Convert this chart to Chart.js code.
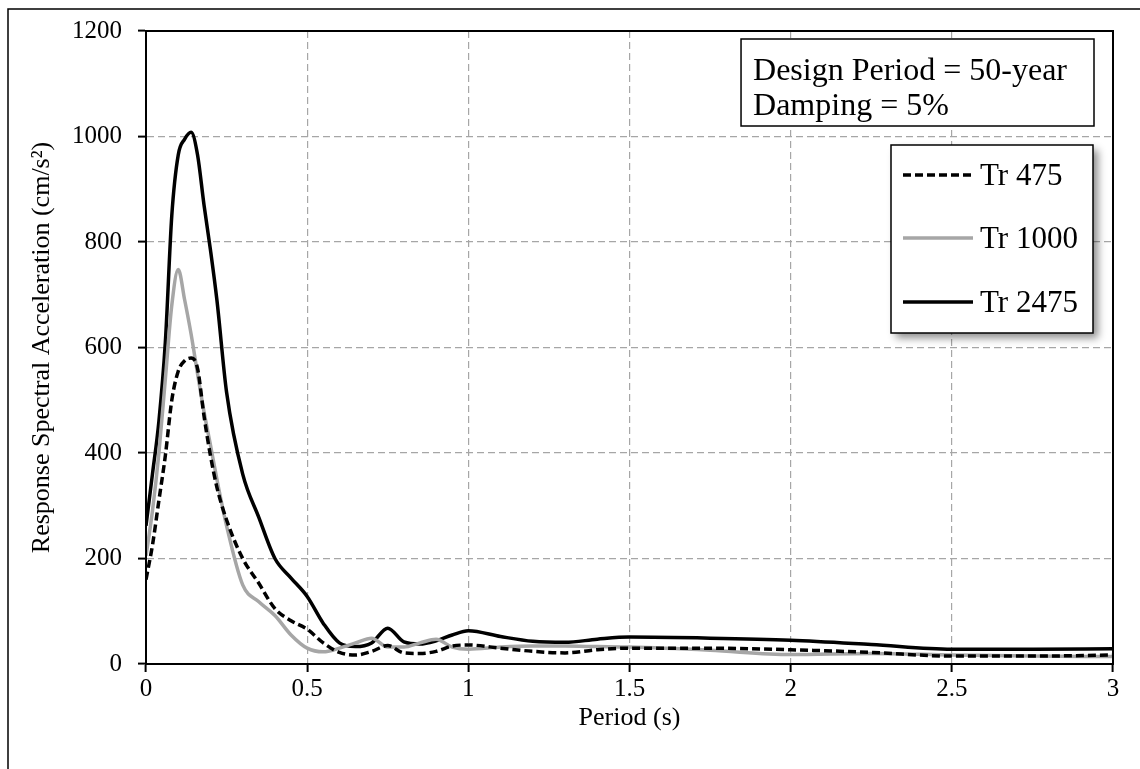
<!DOCTYPE html>
<html>
<head>
<meta charset="utf-8">
<script src="https://cdn.jsdelivr.net/npm/chart.js@4.4.0/dist/chart.umd.min.js"></script>
<style>
  body { margin: 0; background: #fff; }
  canvas { display: block; }
</style>
</head>
<body>
<canvas id="grafica" width="1140" height="769"></canvas>
<script>
// periodos (s) y aceleraciones espectrales (cm/s2)
const periods = [0, 0.02, 0.04, 0.06, 0.08, 0.1, 0.12, 0.14, 0.16, 0.18, 0.2, 0.22, 0.25, 0.3, 0.35, 0.4, 0.45, 0.5,
    0.55, 0.6, 0.65, 0.7, 0.75, 0.8, 0.85, 0.9, 0.95, 1.0, 1.1, 1.2, 1.3, 1.4, 1.5, 1.75, 2.0, 2.25, 2.5, 2.75, 3.0];
const tr475 = [160, 225, 310, 395, 500, 555, 575, 580, 560, 470, 395, 335, 273, 200, 153, 105, 82, 66,
    40, 22, 17, 24, 35, 21, 20, 24, 34, 36, 30, 24, 21, 27, 30, 30, 27, 22, 15, 15, 17];
const tr1000 = [205, 290, 400, 540, 680, 748, 690, 625, 550, 478, 415, 350, 262, 150, 118, 92, 55, 30,
    23, 30, 40, 49, 32, 32, 40, 47, 32, 28, 32, 34, 34, 33, 32, 26, 18, 20, 17, 15, 14];
const tr2475 = [262, 360, 460, 610, 850, 965, 995, 1008, 965, 870, 785, 690, 515, 360, 278, 200, 163, 128,
    77, 40, 33, 40, 68, 42, 38, 44, 55, 63, 52, 43, 41, 47, 51, 49, 45, 37, 28, 28, 29];

const seriesLabels = ['Tr 475', 'Tr 1000', 'Tr 2475'];
const boxLines = ['Design Period = 50-year', 'Damping = 5%'];
const xTicks = [0, 0.5, 1, 1.5, 2, 2.5, 3];
const yTicks = [0, 200, 400, 600, 800, 1000, 1200];

const serif = "'Liberation Serif', 'Times New Roman', serif";

function toPoints(arr) {
    return periods.map((p, i) => ({ x: p, y: arr[i] }));
}

const marcoPlugin = {
    id: 'marco',
    beforeDraw(chart) {
        const ctx = chart.ctx;
        ctx.save();
        ctx.strokeStyle = '#000';
        ctx.lineWidth = 1.5;
        ctx.beginPath();
        ctx.moveTo(8, 769);
        ctx.lineTo(8, 9);
        ctx.lineTo(1140, 9);
        ctx.stroke();
        ctx.restore();
    },
    afterDraw(chart) {
        const ctx = chart.ctx;
        const a = chart.chartArea;
        ctx.save();
        // borde del area de grafico
        ctx.strokeStyle = '#000';
        ctx.lineWidth = 2;
        ctx.strokeRect(a.left, a.top, a.right - a.left, a.bottom - a.top);

        // cuadro de texto
        ctx.font = '32px ' + serif;
        ctx.textBaseline = 'alphabetic';
        ctx.textAlign = 'left';
        const w = Math.max(...boxLines.map(t => ctx.measureText(t).width));
        const boxRight = 1094, boxTop = 39, boxBottom = 126;
        const textLeft = 1067 - w;
        const boxLeft = textLeft - 12;
        ctx.fillStyle = '#fff';
        ctx.fillRect(boxLeft, boxTop, boxRight - boxLeft, boxBottom - boxTop);
        ctx.lineWidth = 1.5;
        ctx.strokeRect(boxLeft, boxTop, boxRight - boxLeft, boxBottom - boxTop);
        ctx.fillStyle = '#000';
        ctx.fillText(boxLines[0], textLeft, 80);
        ctx.fillText(boxLines[1], textLeft, 115);

        // leyenda con sombra
        const lx = 891, ly = 145, lw = 202, lh = 188;
        ctx.save();
        ctx.shadowColor = 'rgba(0,0,0,0.45)';
        ctx.shadowBlur = 8;
        ctx.shadowOffsetX = 5;
        ctx.shadowOffsetY = 5;
        ctx.fillStyle = '#fff';
        ctx.fillRect(lx, ly, lw, lh);
        ctx.restore();
        ctx.lineWidth = 1.5;
        ctx.strokeStyle = '#000';
        ctx.strokeRect(lx, ly, lw, lh);

        const rows = [175, 238, 302];
        const baselines = [185, 248, 312];
        chart.data.datasets.forEach((ds, i) => {
            ctx.save();
            ctx.strokeStyle = ds.borderColor;
            ctx.lineWidth = ds.borderWidth;
            ctx.setLineDash(ds.borderDash || []);
            ctx.beginPath();
            ctx.moveTo(903, rows[i]);
            ctx.lineTo(973, rows[i]);
            ctx.stroke();
            ctx.restore();
            ctx.fillStyle = '#000';
            ctx.font = '31px ' + serif;
            ctx.fillText(ds.label, 980, baselines[i]);
        });
        ctx.restore();
    }
};

function main() {
    const ctx = document.getElementById('grafica').getContext('2d');

    const chartData = {
        datasets: [
            {
                label: seriesLabels[0],
                data: toPoints(tr475),
                borderColor: '#000',
                borderWidth: 3.5,
                borderDash: [8, 4],
                pointRadius: 0,
                cubicInterpolationMode: 'monotone'
            },
            {
                label: seriesLabels[1],
                data: toPoints(tr1000),
                borderColor: '#a6a6a6',
                borderWidth: 3.5,
                pointRadius: 0,
                cubicInterpolationMode: 'monotone'
            },
            {
                label: seriesLabels[2],
                data: toPoints(tr2475),
                borderColor: '#000',
                borderWidth: 3.5,
                pointRadius: 0,
                cubicInterpolationMode: 'monotone'
            }
        ]
    };

    // rejilla gris punteada, marcas negras
    const gridStyle = {
        color: '#a6a6a6',
        lineWidth: 1.2,
        tickColor: '#000',
        tickLength: 8,
        tickWidth: 2,
        tickBorderDash: []
    };
    const borderStyle = { color: '#000', width: 2, dash: [7, 4] };

    const config = {
        type: 'line',
        data: chartData,
        options: {
            responsive: false,
            animation: { duration: 0 },
            layout: { padding: { left: 0, top: 31, right: 27, bottom: 0 } },
            plugins: {
                legend: { display: false },
                tooltip: { enabled: false }
            },
            scales: {
                x: {
                    type: 'linear',
                    min: 0,
                    max: 3,
                    afterBuildTicks: (scale) => { scale.ticks = xTicks.map(v => ({ value: v })); },
                    afterFit: (scale) => { scale.height = 105; },
                    border: borderStyle,
                    grid: gridStyle,
                    ticks: {
                        color: '#000',
                        padding: 2,
                        maxRotation: 0,
                        font: { family: serif, size: 25 },
                        callback: (v) => String(v)
                    },
                    title: {
                        display: true,
                        text: 'Period (s)',
                        color: '#000',
                        font: { family: serif, size: 26 },
                        padding: { bottom: 35 }
                    }
                },
                y: {
                    min: 0,
                    max: 1200,
                    afterBuildTicks: (scale) => { scale.ticks = yTicks.map(v => ({ value: v })); },
                    afterFit: (scale) => { scale.width = 146; },
                    border: borderStyle,
                    grid: gridStyle,
                    ticks: {
                        color: '#000',
                        padding: 16,
                        font: { family: serif, size: 25 },
                        callback: (v) => String(v)
                    },
                    title: {
                        display: true,
                        text: 'Response Spectral Acceleration (cm/s²)',
                        color: '#000',
                        font: { family: serif, size: 26 },
                        padding: { top: 27 }
                    }
                }
            }
        },
        plugins: [marcoPlugin]
    };

    window.myChart = new Chart(ctx, config);
}

document.addEventListener('DOMContentLoaded', function() {
    main();
});
</script>
</body>
</html>
